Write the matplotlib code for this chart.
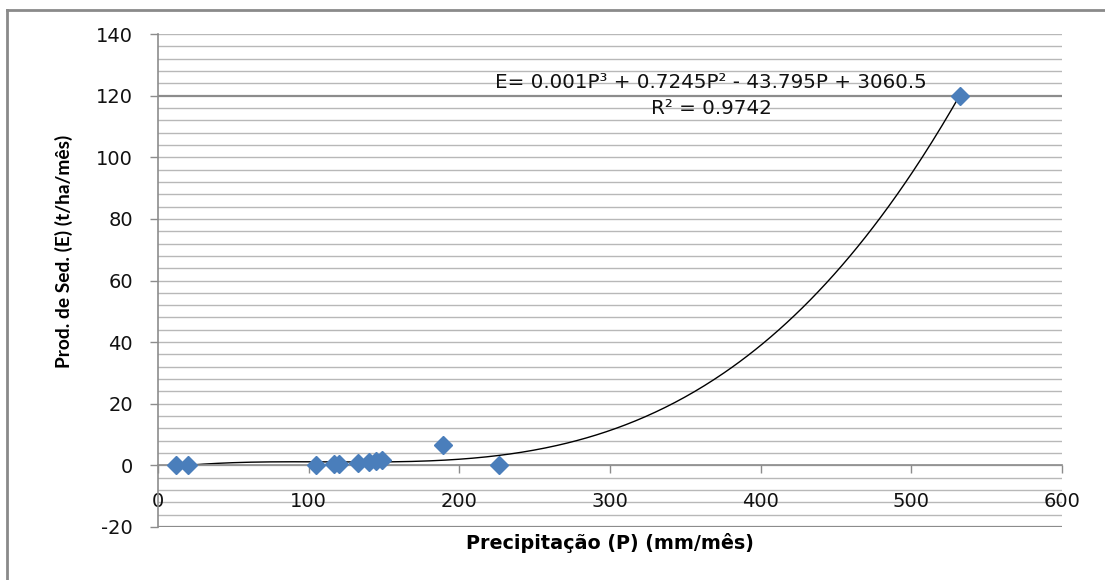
import numpy as np
import matplotlib
matplotlib.use("Agg")
import matplotlib.pyplot as plt
from matplotlib.lines import Line2D

# Data
precip = [12, 20, 105, 117, 120, 133, 140, 145, 149, 189, 226, 532]   # P (mm/mês)
sed = [0.1, 0.1, 0.2, 0.3, 0.4, 0.8, 1.0, 1.3, 1.6, 6.5, 0.1, 120.0]  # E (t/ha/mês)
x_ticks = [0, 100, 200, 300, 400, 500, 600]
y_ticks = [-20, 0, 20, 40, 60, 80, 100, 120, 140]
eq_text = "E= 0.001P³ + 0.7245P² - 43.795P + 3060.5"
r2_text = "R² = 0.9742"
x_label = "Precipitação (P) (mm/mês)"
y_label = "Prod. de Sed. (E) (t/ha/mês)"

W, H = 1105, 580
fig = plt.figure(figsize=(W / 100, H / 100), dpi=100)
ax = fig.add_axes([158 / W, 1 - 527 / H, (1062 - 158) / W, (527 - 34) / H])

ax.set_xlim(0, 600)
ax.set_ylim(-20, 140)

# gridlines every 4 units
for v in np.arange(-20, 141, 4):
    c = "#8c8c8c" if v in (120, -20) else "#b8b8b8"
    lw = 1.6 if v in (120, -20) else 1.0
    ax.axhline(v, color=c, lw=lw, zorder=0)

# trendline: cubic polynomial fit
coef = np.polyfit(precip, sed, 3)
xs = np.linspace(min(precip), max(precip), 400)
ax.plot(xs, np.polyval(coef, xs), color="black", lw=1.0, zorder=2)

ax.plot(precip, sed, linestyle="none", marker="D", ms=9.5,
        color="#4a7ebb", mec="#4a7ebb", zorder=3)

# spines
for s in ("top", "right"):
    ax.spines[s].set_visible(False)
ax.spines["left"].set_color("#8c8c8c")
ax.spines["left"].set_linewidth(1.2)
ax.spines["bottom"].set_position(("data", 0))
ax.spines["bottom"].set_color("#8c8c8c")
ax.spines["bottom"].set_linewidth(1.2)

ax.set_xticks(x_ticks)
ax.set_yticks(y_ticks)
ax.set_xticklabels([str(v) for v in x_ticks])
ax.set_yticklabels([str(v) for v in y_ticks])
ax.tick_params(axis="y", direction="out", length=6, width=1, color="#8c8c8c",
               pad=12, labelsize=14, labelcolor="#111111")
ax.tick_params(axis="x", direction="out", length=6, width=1, color="#8c8c8c",
               pad=13, labelsize=14, labelcolor="#111111")
for lab in ax.get_xticklabels() + ax.get_yticklabels():
    lab.set_fontfamily("DejaVu Sans")

fig.text(711 / W, 1 - 83 / H, eq_text, ha="center", va="center",
         fontsize=14.3, family="DejaVu Sans", color="#111111")
fig.text(711 / W, 1 - 108 / H, r2_text, ha="center", va="center",
         fontsize=14.3, family="DejaVu Sans", color="#111111")

fig.text(610 / W, 1 - 543 / H, x_label, ha="center", va="center",
         fontsize=13.8, fontweight="bold", family="DejaVu Sans")
fig.text(64 / W, 1 - 251 / H, y_label, ha="center", va="center",
         rotation=90, fontsize=13.8, fontweight="bold", family="Lato")

# outer chart border (top and left visible)
fig.add_artist(Line2D([7 / W, 1.0], [1 - 10 / H, 1 - 10 / H], color="#8a8a8a",
                      lw=2, transform=fig.transFigure))
fig.add_artist(Line2D([7 / W, 7 / W], [1 - 10 / H, 0.0], color="#8a8a8a",
                      lw=2, transform=fig.transFigure))

fig.savefig("out.png", dpi=100)
